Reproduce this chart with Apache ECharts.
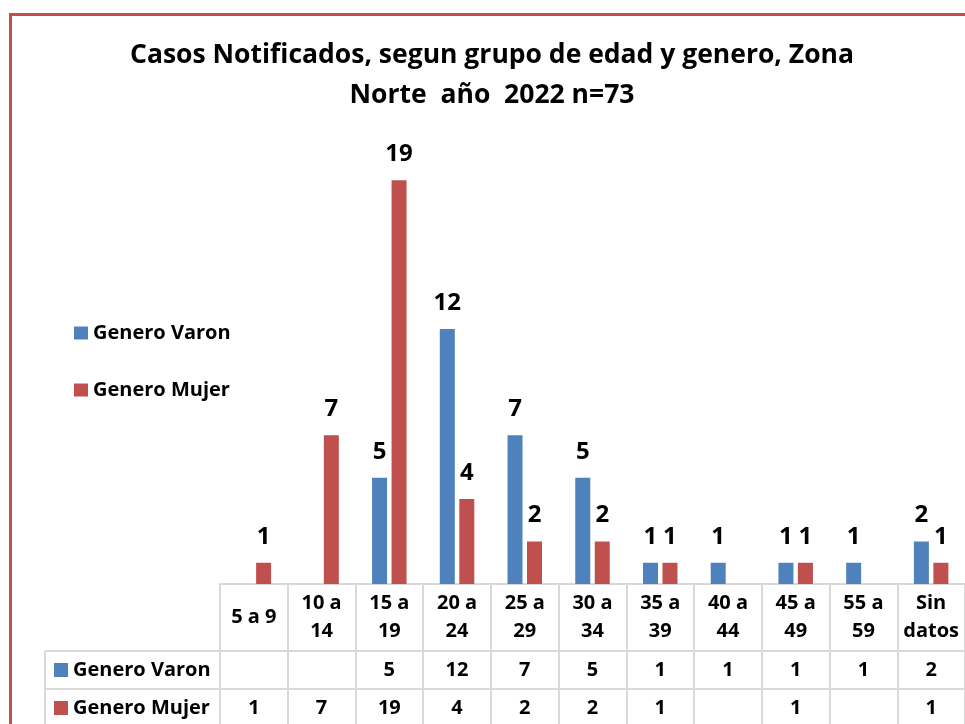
<!DOCTYPE html>
<html>
<head>
<meta charset="utf-8">
<script src="https://cdn.jsdelivr.net/npm/echarts@6/dist/echarts.min.js"></script>
<style>
  html, body { margin: 0; padding: 0; background: #fff; }
  #chart { width: 965px; height: 724px; }
</style>
</head>
<body>
<div id="chart"></div>
<script>
const categorias = ['5 a 9', '10 a\n14', '15 a\n19', '20 a\n24', '25 a\n29', '30 a\n34', '35 a\n39', '40 a\n44', '45 a\n49', '55 a\n59', 'Sin\ndatos'];
const varon = [null, null, 5, 12, 7, 5, 1, 1, 1, 1, 2];
const mujer = [1, 7, 19, 4, 2, 2, 1, null, 1, null, 1];
const nombres = ['Genero Varon', 'Genero Mujer'];
const colores = ['#4f81bd', '#c0504d'];

const FONT = '"Open Sans"';
const gridLeft = 220, gridTop = 159, gridBottom = 140;
const headerH = 67, rowH = 38;
const lineColor = '#d9d9d9';

const el = document.getElementById('chart');
const chart = echarts.init(el, null, { renderer: 'canvas' });

const valueOrBlank = (arr) => (v, i) => (arr[i] == null ? '' : String(arr[i]));

// one x axis per table row: header with categories, then one per series
const tableAxis = (offset, tickLen, formatter) => ({
  type: 'category',
  data: categorias,
  position: 'bottom',
  offset,
  axisLine: { show: true, onZero: false, lineStyle: { color: lineColor, width: 2 } },
  axisTick: { show: true, interval: 0, length: tickLen, lineStyle: { color: lineColor, width: 2 } },
  axisLabel: {
    interval: 0,
    margin: tickLen / 2,
    verticalAlign: 'middle',
    color: '#000',
    fontFamily: FONT,
    fontWeight: 'bold',
    fontSize: 20,
    lineHeight: 28,
    formatter
  }
});

const H = 724;
const rowTop = H - gridBottom + headerH;
const graphic = [
  {
    type: 'rect', silent: true, z: -1,
    shape: { x: 10.5, y: 14.5, width: 2000, height: 2000 },
    style: { fill: 'none', stroke: '#c0504d', lineWidth: 3 }
  },
  { type: 'line', shape: { x1: 45, y1: rowTop, x2: gridLeft, y2: rowTop }, style: { stroke: lineColor, lineWidth: 2 } },
  { type: 'line', shape: { x1: 45, y1: rowTop + rowH, x2: gridLeft, y2: rowTop + rowH }, style: { stroke: lineColor, lineWidth: 2 } },
  { type: 'line', shape: { x1: 45, y1: rowTop + 2 * rowH, x2: gridLeft, y2: rowTop + 2 * rowH }, style: { stroke: lineColor, lineWidth: 2 } },
  { type: 'line', shape: { x1: 45, y1: rowTop, x2: 45, y2: rowTop + 2 * rowH }, style: { stroke: lineColor, lineWidth: 2 } }
];
nombres.forEach((n, k) => {
  const cy = rowTop + rowH * k + rowH / 2;
  graphic.push({ type: 'rect', shape: { x: 54, y: cy - 7, width: 14, height: 14 }, style: { fill: colores[k] } });
  graphic.push({
    type: 'text', x: 73, y: cy,
    style: { text: n, fill: '#000', font: `bold 20px ${FONT}`, verticalAlign: 'middle' }
  });
});

const barLabel = {
  show: true,
  position: 'top',
  distance: 14,
  color: '#000',
  fontFamily: FONT,
  fontWeight: 'bold',
  fontSize: 24,
  formatter: (p) => (p.value == null ? '' : String(p.value))
};

const option = {
  animation: false,
  textStyle: { fontFamily: FONT },
  title: {
    text: 'Casos Notificados, segun grupo de edad y genero, Zona\nNorte  año  2022 n=73',
    left: 492,
    top: 35,
    padding: 0,
    textAlign: 'center',
    textStyle: { fontFamily: FONT, fontWeight: 'bold', fontSize: 26.5, lineHeight: 40, color: '#000' }
  },
  legend: {
    orient: 'vertical',
    left: 74,
    top: 321,
    padding: 0,
    data: nombres,
    icon: 'rect',
    itemWidth: 14,
    itemHeight: 13,
    itemGap: 33,
    textStyle: { fontFamily: FONT, fontWeight: 'bold', fontSize: 20, lineHeight: 24, color: '#000' }
  },
  grid: { left: gridLeft, right: -6, top: gridTop, bottom: gridBottom },
  xAxis: [
    tableAxis(0, headerH),
    tableAxis(headerH, rowH, valueOrBlank(varon)),
    tableAxis(headerH + rowH, rowH, valueOrBlank(mujer))
  ],
  yAxis: { type: 'value', min: 0, max: 20, show: false, splitLine: { show: false } },
  series: [
    { name: nombres[0], type: 'bar', data: varon, barWidth: 15, barGap: '30%', itemStyle: { color: colores[0] }, label: barLabel },
    { name: nombres[1], type: 'bar', data: mujer, barWidth: 15, barGap: '30%', itemStyle: { color: colores[1] }, label: barLabel }
  ],
  graphic
};

chart.setOption(option);
</script>
</body>
</html>
